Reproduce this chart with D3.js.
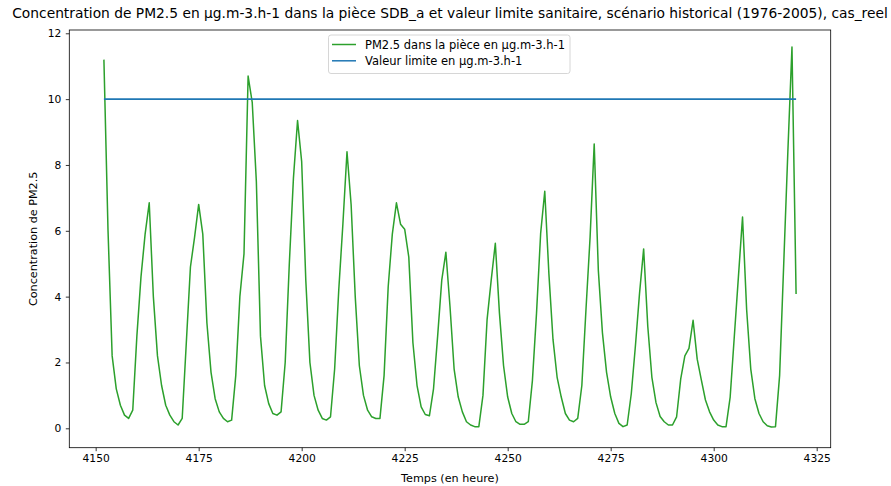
<!DOCTYPE html>
<html><head><meta charset="utf-8">
<script src="https://cdn.jsdelivr.net/npm/d3@7/dist/d3.min.js"></script>
<style>
body{margin:0;background:#fff;}
text{font-family:"DejaVu Sans",sans-serif;fill:#000;}
</style>
</head><body>
<svg id="chart" width="891" height="486"></svg>
<script>
// ---------------- data ----------------
const hours = [
 4152,4153,4154,4155,4156,4157,4158,4159,4160,4161,4162,
 4163,4164,4165,4166,4167,4168,4169,4170,4171,4172,4173,4174,
 4175,4176,4177,4178,4179,4180,4181,4182,4183,4184,4185,4186,
 4187,4188,4189,4190,4191,4192,4193,4194,4195,4196,4197,4198,
 4199,4200,4201,4202,4203,4204,4205,4206,4207,4208,4209,4210,
 4211,4212,4213,4214,4215,4216,4217,4218,4219,4220,4221,4222,
 4223,4224,4225,4226,4227,4228,4229,4230,4231,4232,4233,4234,
 4235,4236,4237,4238,4239,4240,4241,4242,4243,4244,4245,4246,
 4247,4248,4249,4250,4251,4252,4253,4254,4255,4256,4257,4258,
 4259,4260,4261,4262,4263,4264,4265,4266,4267,4268,4269,4270,
 4271,4272,4273,4274,4275,4276,4277,4278,4279,4280,4281,4282,
 4283,4284,4285,4286,4287,4288,4289,4290,4291,4292,4293,4294,
 4295,4296,4297,4298,4299,4300,4301,4302,4303,4304,4305,4306,
 4307,4308,4309,4310,4311,4312,4313,4314,4315,4316,4317,4318,
 4319,4320
];
const pm25 = [
 11.2,6.0,2.2,1.2,0.7,0.4,0.3,0.55,2.8,4.6,5.9,
 6.85,4.0,2.2,1.3,0.7,0.4,0.2,0.1,0.3,2.6,4.9,5.8,
 6.8,5.9,3.2,1.7,0.9,0.5,0.3,0.2,0.25,1.6,4.0,5.3,
 10.7,9.9,7.5,2.8,1.3,0.75,0.45,0.4,0.5,2.0,5.0,7.6,
 9.35,8.1,4.5,2.0,1.0,0.55,0.3,0.25,0.35,1.8,4.2,6.2,
 8.4,6.8,4.0,1.9,1.0,0.55,0.35,0.3,0.3,1.6,4.3,5.9,
 6.85,6.2,6.05,5.2,2.6,1.3,0.65,0.42,0.38,1.2,2.8,4.5,
 5.35,3.7,1.8,0.95,0.5,0.2,0.1,0.05,0.05,1.0,3.3,4.5,
 5.62,3.5,1.9,0.95,0.45,0.2,0.12,0.12,0.2,1.45,3.5,5.92,
 7.2,4.7,2.7,1.55,0.95,0.45,0.25,0.2,0.3,1.3,3.6,5.8,
 8.64,4.8,2.9,1.7,0.95,0.45,0.15,0.05,0.1,1.05,2.5,4.1,
 5.45,3.1,1.55,0.78,0.36,0.2,0.1,0.1,0.35,1.5,2.2,2.43,
 3.28,2.1,1.47,0.86,0.5,0.25,0.1,0.05,0.05,0.95,2.78,4.6,
 6.42,3.6,1.8,0.9,0.45,0.2,0.08,0.04,0.05,1.6,5.0,8.4,
 11.58,4.08
];
const limitHours = [4152, 4320];
const limitValues = [10, 10];
const xTicks = [4150,4175,4200,4225,4250,4275,4300,4325];
const yTicks = [0,2,4,6,8,10,12];
const seriesNames = ["PM2.5 dans la pièce en µg.m-3.h-1", "Valeur limite en µg.m-3.h-1"];
const titleText = "Concentration de PM2.5 en µg.m-3.h-1 dans la pièce SDB_a et valeur limite sanitaire, scénario historical (1976-2005), cas_reel";
const xLabel = "Temps (en heure)";
const yLabel = "Concentration de PM2.5";

// ---------------- layout ----------------
const L = 69.3, R = 830.7, T = 30, B = 447.7;
const green = "#2ca02c", blue = "#1f77b4";
const tickFs = 10.7, labelFs = 11.2, legendFs = 11.5, titleFs = 13.8;

const svg = d3.select("#chart");
svg.append("rect").attr("width",891).attr("height",486).attr("fill","#fff");

const x = d3.scaleLinear().domain([4143.6, 4328.4]).range([L, R]);
const y = d3.scaleLinear().domain([-0.589, 12.1]).range([B, T]);

// lines
const line = d3.line().x(d => x(d[0])).y(d => y(d[1]));
svg.append("path")
  .datum(hours.map((h,i) => [h, pm25[i]]))
  .attr("d", line).attr("fill","none").attr("stroke",green)
  .attr("stroke-width",1.5).attr("stroke-linejoin","round");
svg.append("path")
  .datum(limitHours.map((h,i) => [h, limitValues[i]]))
  .attr("d", line).attr("fill","none").attr("stroke",blue)
  .attr("stroke-width",1.8);

// axes
const xAxis = d3.axisBottom(x).tickValues(xTicks).tickSize(3.5).tickPadding(3.5).tickFormat(d3.format("d"));
const yAxis = d3.axisLeft(y).tickValues(yTicks).tickSize(3.5).tickPadding(4.5).tickFormat(d3.format("d"));
const gx = svg.append("g").attr("transform",`translate(0,${B})`).call(xAxis);
const gy = svg.append("g").attr("transform",`translate(${L},0)`).call(yAxis);
[gx, gy].forEach(g => {
  g.select(".domain").remove();
  g.selectAll(".tick line").attr("stroke","#000").attr("stroke-width",0.8);
  g.selectAll(".tick text").attr("font-size",tickFs).attr("font-family","DejaVu Sans").attr("fill","#000");
});

// spines
svg.append("rect").attr("x",L).attr("y",T).attr("width",R-L).attr("height",B-T)
  .attr("fill","none").attr("stroke","#000").attr("stroke-width",0.8);

// title
svg.append("text").attr("x",(L+R)/2).attr("y",18).attr("text-anchor","middle")
  .attr("font-size",titleFs).text(titleText);

// axis labels
svg.append("text").attr("x",(L+R)/2).attr("y",482).attr("text-anchor","middle")
  .attr("font-size",labelFs).text(xLabel);
svg.append("text").attr("transform",`translate(37,${(T+B)/2}) rotate(-90)`)
  .attr("text-anchor","middle").attr("font-size",labelFs).text(yLabel);

// legend
const lg = svg.append("g");
lg.append("rect").attr("x",328.5).attr("y",35).attr("width",241.5).attr("height",38.5)
  .attr("rx",2.5).attr("fill","#fff").attr("fill-opacity",0.8)
  .attr("stroke","#cccccc").attr("stroke-width",0.8);
const legendColors = [green, blue];
const legendRows = [44.5, 60.8];
seriesNames.forEach((name,i) => {
  lg.append("line").attr("x1",332).attr("x2",356).attr("y1",legendRows[i]).attr("y2",legendRows[i])
    .attr("stroke",legendColors[i]).attr("stroke-width",1.5);
  lg.append("text").attr("x",365).attr("y",legendRows[i]).attr("dy","0.35em")
    .attr("font-size",legendFs).text(name);
});
</script>
</body></html>
